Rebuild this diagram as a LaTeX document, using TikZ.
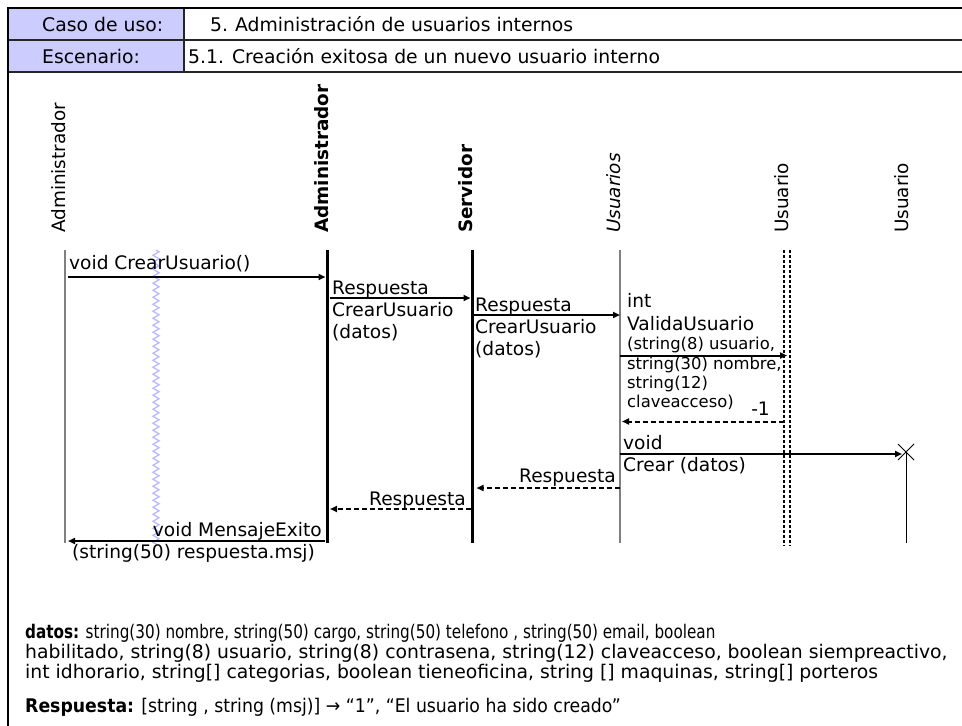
\documentclass[tikz,border=0pt]{standalone}
\usepackage{fontspec}
\setmainfont{DejaVu Sans}
\newfontfamily\narrowA[FakeStretch=0.81]{DejaVu Sans}
\newfontfamily\narrowB[FakeStretch=0.92]{DejaVu Sans}
\usetikzlibrary{arrows.meta,decorations.pathmorphing}
\definecolor{headfill}{RGB}{204,204,255}
\definecolor{lifegray}{RGB}{128,128,128}
\definecolor{lavline}{RGB}{185,185,255}

\begin{document}
\begin{tikzpicture}[x=1pt,y=-1pt,
  lbl/.style={inner sep=0pt, font=\fontsize{18.6}{22}\selectfont, anchor=base west},
  lblr/.style={inner sep=0pt, font=\fontsize{18.6}{22}\selectfont, anchor=base east},
  small/.style={inner sep=0pt, font=\fontsize{16.4}{19.5}\selectfont, anchor=base west},
  headtxt/.style={inner sep=0pt, font=\fontsize{18.8}{22}\selectfont, anchor=base west},
  obj/.style={rotate=90, anchor=mid west, inner sep=0pt, font=\fontsize{18.4}{22}\selectfont},
  note/.style={inner sep=0pt, font=\fontsize{18.8}{20}\selectfont, anchor=base west},
  call/.style={line width=2pt, -{Triangle[length=7pt,width=6pt]}},
  ret/.style={line width=2pt, dash pattern=on 5pt off 3pt, -{Triangle[length=7pt,width=6pt]}},
  thinlife/.style={draw=lifegray, line width=1.5pt},
  thicklife/.style={draw=black, line width=3pt},
  duallife/.style={draw=black, line width=1.5pt, dash pattern=on 3pt off 2pt},
  rule/.style={draw=black!85, line width=1.5pt}
]
\useasboundingbox (0,0) rectangle (962,726);

% ---- header table ----
\fill[headfill] (8,8) rectangle (184,72);
\draw[rule] (8,40) -- (962,40);
\draw[rule] (8,72) -- (962,72);
\draw[rule] (184,8) -- (184,72);
\draw[draw=black, line width=2.5pt] (8,8) -- (962,8);
\draw[draw=black, line width=2pt] (8,7) -- (8,726);

\node[headtxt] (hcaso) at (42,31) {Caso de uso:};
\node[headtxt] (hesc) at (42,63) {Escenario:};
\node[headtxt] (vcaso) at (210,31) {5.\hspace{7pt}Administración de usuarios internos};
\node[headtxt] (vesc) at (188,63) {5.1. Creación exitosa de un nuevo usuario interno};

% ---- participants ----
\node[obj] (pact) at (63,233) {Administrador};
\node[obj, font=\fontsize{18.4}{22}\selectfont\bfseries] (padm) at (326,233) {Administrador};
\node[obj, font=\fontsize{18.4}{22}\selectfont\bfseries] (psrv) at (470,233) {Servidor};
\node[obj, font=\fontsize{18.4}{22}\selectfont\itshape] (puss) at (618,233) {Usuarios};
\node[obj] (pusa) at (786,233) {Usuario};
\node[obj] (pusb) at (906,233) {Usuario};

% lifeline columns
\coordinate (act) at (65,250);
\coordinate (adm) at (327,250);
\coordinate (srv) at (472,250);
\coordinate (uss) at (620,250);
\coordinate (usa) at (787,250);
\coordinate (usb) at (906,250);
\coordinate (bot) at (0,543);

% ---- lifelines ----
\draw[lavline, line width=1.3pt, decorate,
      decoration={zigzag, amplitude=3pt, segment length=7pt}] (156,250) -- (156,545);
\draw[thinlife] (act) -- (act |- bot);
\draw[thicklife] (adm) -- (adm |- bot);
\draw[thicklife] (srv) -- (srv |- bot);
\draw[thinlife] (uss) -- (uss |- bot);
\draw[duallife] (784,250) -- (784,546);
\draw[duallife] (790,250) -- (790,546);
\coordinate (xend) at (906,452);
\draw[line width=1pt] (xend) -- (usb |- bot);
\draw[line width=1pt] (898,444) -- (914,460);
\draw[line width=1pt] (898,460) -- (914,444);

% message rows
\coordinate (m1) at (0,277);
\coordinate (m2) at (0,298);
\coordinate (m3) at (0,315);
\coordinate (m4) at (0,355.5);
\coordinate (m5) at (0,421.5);
\coordinate (m6) at (0,454);
\coordinate (m7) at (0,488);
\coordinate (m8) at (0,509);
\coordinate (m9) at (0,541);

% ---- messages ----
\draw[call, shorten <=3pt, shorten >=1.5pt] (act |- m1) -- (adm |- m1);
\node[lbl] (t1) at (69,269) {void CrearUsuario()};

\draw[call, shorten <=3pt, shorten >=1.5pt] (adm |- m2) -- (srv |- m2);
\node[lbl] (t2a) at (332,294) {Respuesta};
\node[lbl] (t2b) at (332,316) {CrearUsuario};
\node[lbl] (t2c) at (332,338) {(datos)};

\draw[call, shorten <=1pt] (srv |- m3) -- (uss |- m3);
\node[lbl] (t3a) at (475,311) {Respuesta};
\node[lbl] (t3b) at (475,333) {CrearUsuario};
\node[lbl] (t3c) at (475,355) {(datos)};

\draw[call] (uss |- m4) -- (usa |- m4);
\node[lbl] (t4a) at (627,307) {int};
\node[lbl] (t4b) at (627,330) {ValidaUsuario};
\node[small] (t4c) at (627,349) {(string(8) usuario,};
\node[small] (t4d) at (627,369) {string(30) nombre,};
\node[small] (t4e) at (627,388) {string(12)};
\node[small] (t4f) at (627,407) {claveacceso)};

\draw[ret, shorten <=3pt, shorten >=2pt] (usa |- m5) -- (uss |- m5);
\node[lblr] (t5) at (770,415) {-1};

\draw[call, shorten >=4pt] (uss |- m6) -- (usb |- m6);
\node[lbl] (t6a) at (623,449) {void};
\node[lbl] (t6b) at (623,471) {Crear (datos)};

\draw[ret, shorten >=4.5pt] (uss |- m7) -- (srv |- m7);
\node[lblr] (t7) at (616,482) {Respuesta};

\draw[ret, shorten <=1.5pt, shorten >=3pt] (srv |- m8) -- (adm |- m8);
\node[lblr] (t8) at (466,505) {Respuesta};

\draw[call, shorten <=2pt, shorten >=3pt] (adm |- m9) -- (act |- m9);
\node[lblr] (t9a) at (322,536) {void MensajeExito};
\node[lbl] (t9b) at (72,558) {(string(50) respuesta.msj)};

% ---- notes ----
\node[note] (nd1) at (25,638) {\narrowA\textbf{datos:} string(30) nombre, string(50) cargo, string(50) telefono , string(50) email, boolean};
\node[note] (nd2) at (25,658) {habilitado, string(8) usuario, string(8) contrasena, string(12) claveacceso, boolean siempreactivo,};
\node[note] (nd3) at (25,678) {int idhorario, string[] categorias, boolean tieneoficina, string [] maquinas, string[] porteros};
\node[note] (nresp) at (25,712) {\narrowB\textbf{Respuesta:} [string , string (msj)] → “1”, “El usuario ha sido creado”};
\end{tikzpicture}
\end{document}
